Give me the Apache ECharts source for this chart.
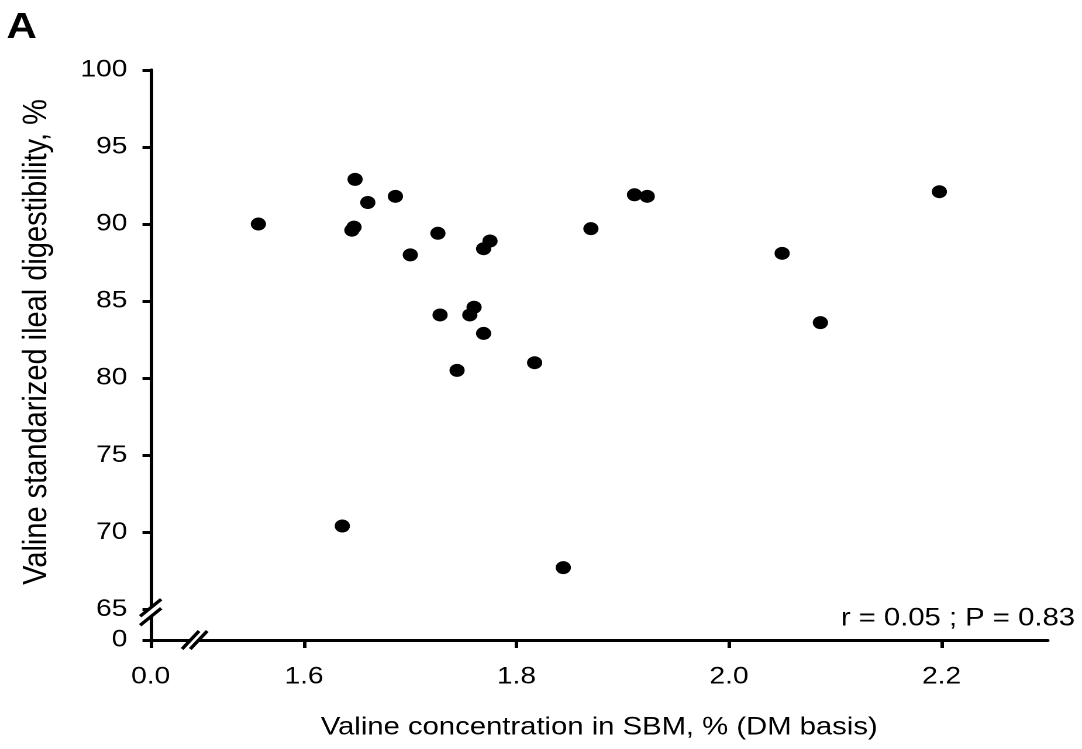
<!DOCTYPE html>
<html>
<head>
<meta charset="utf-8">
<script src="https://cdn.jsdelivr.net/npm/echarts@6/dist/echarts.min.js"></script>
<style>
  html, body { margin: 0; padding: 0; background: #fff; overflow: hidden; }
  /* the figure is drawn narrower and widened to the page, so type and dots are slightly broad */
  #chart { width: 925px; height: 749px; transform: scaleX(1.16973); transform-origin: 0 0; }
</style>
</head>
<body>
<div id="chart"></div>
<script>
// Valine concentration in SBM (% DM) and standardized ileal digestibility (%)
const valineConc = [
  1.557, 1.648, 1.660, 1.686, 1.647, 1.645, 1.726, 1.700,
  1.775, 1.769, 1.728, 1.760, 1.756, 1.769, 1.744, 1.817,
  1.870, 1.911, 1.923, 2.050, 2.086, 2.198, 1.636, 1.844
];
const valineSID = [
  90.0, 92.9, 91.4, 91.8, 89.8, 89.6, 89.4, 88.0,
  88.9, 88.4, 84.1, 84.6, 84.1, 82.9, 80.5, 81.0,
  89.7, 91.9, 91.8, 88.1, 83.6, 92.1, 70.4, 67.7
];

// Broken axes: the first tick of each axis stands for zero
const xAxisStart = 1.4556;
const xAxisEnd = 2.3;
const xTickValues = [xAxisStart, 1.6, 1.8, 2.0, 2.2];
const xTickLabels = ['0.0', '1.6', '1.8', '2.0', '2.2'];
const xBreakAt = 1.497;

const yAxisStart = 63;
const yAxisEnd = 100;
const yTickValues = [yAxisStart, 65, 70, 75, 80, 85, 90, 95, 100];
const yTickLabels = ['0', '65', '70', '75', '80', '85', '90', '95', '100'];
const yBreakAt = 64.8;

const statsText = 'r = 0.05 ; P = 0.83';
const panelLetter = 'A';
const xTitle = 'Valine concentration in SBM, % (DM basis)';
const yTitle = 'Valine standarized ileal digestibility, %';

function labelFor(values, labels) {
  return function (v) {
    let best = 0;
    for (let i = 1; i < values.length; i++) {
      if (Math.abs(values[i] - v) < Math.abs(values[best] - v)) best = i;
    }
    return labels[best];
  };
}

const FONT = 'Liberation Sans, Arial, sans-serif';
const chart = echarts.init(document.getElementById('chart'), null, {
  renderer: 'canvas', devicePixelRatio: 2
});

const axisLine = { show: true, onZero: false, lineStyle: { color: '#000', width: 3 } };
const tickStyle = { color: '#000', width: 3 };

chart.setOption({
  animation: false,
  backgroundColor: '#fff',
  grid: { left: 128.8, right: 29.3, top: 70, bottom: 109, containLabel: false },
  xAxis: {
    type: 'value',
    min: xAxisStart,
    max: xAxisEnd,
    axisLine: axisLine,
    axisTick: { show: true, inside: false, length: 8, customValues: xTickValues, lineStyle: tickStyle },
    axisLabel: {
      customValues: xTickValues,
      formatter: labelFor(xTickValues, xTickLabels),
      color: '#000', fontFamily: FONT, fontSize: 24, margin: 25
    },
    splitLine: { show: false },
    name: xTitle,
    nameLocation: 'middle',
    nameGap: 75,
    nameTextStyle: { color: '#000', fontFamily: FONT, fontSize: 25 }
  },
  yAxis: {
    type: 'value',
    min: yAxisStart,
    max: yAxisEnd,
    axisLine: axisLine,
    axisTick: { show: true, inside: false, length: 7, customValues: yTickValues, lineStyle: tickStyle },
    axisLabel: {
      customValues: yTickValues,
      formatter: labelFor(yTickValues, yTickLabels),
      color: '#000', fontFamily: FONT, fontSize: 24, margin: 20
    },
    splitLine: { show: false },
    name: yTitle,
    nameLocation: 'middle',
    nameRotate: 90,
    nameGap: 83,
    nameTextStyle: { color: '#000', fontFamily: FONT, fontSize: 29, padding: [0, 0, 0, 26] }
  },
  series: [{
    type: 'scatter',
    data: valineConc.map((x, i) => [x, valineSID[i]]),
    symbol: 'circle',
    symbolSize: 13,
    itemStyle: { color: '#000', opacity: 1 },
    z: 3
  }]
});

// Break marks on both axes, placed through the grid's coordinate system
const yb = chart.convertToPixel({ gridIndex: 0 }, [xAxisStart, yBreakAt]);
const xb = chart.convertToPixel({ gridIndex: 0 }, [xBreakAt, yAxisStart]);

function breakMark(cx, cy, dx, dy, sx, sy) {
  // two parallel slashes (direction dx,dy) separated by (sx,sy), with the axis blanked between them
  const hx = dx / 2, hy = dy / 2;
  const a = [cx - sx / 2, cy - sy / 2];
  const b = [cx + sx / 2, cy + sy / 2];
  const k = 0.3;
  return [
    {
      type: 'polygon', z: 100,
      shape: { points: [
        [a[0] - hx * k, a[1] - hy * k], [a[0] + hx * k, a[1] + hy * k],
        [b[0] + hx * k, b[1] + hy * k], [b[0] - hx * k, b[1] - hy * k]
      ] },
      style: { fill: '#fff' }
    },
    {
      type: 'line', z: 101,
      shape: { x1: a[0] - hx, y1: a[1] - hy, x2: a[0] + hx, y2: a[1] + hy },
      style: { stroke: '#000', lineWidth: 3 }
    },
    {
      type: 'line', z: 101,
      shape: { x1: b[0] - hx, y1: b[1] - hy, x2: b[0] + hx, y2: b[1] + hy },
      style: { stroke: '#000', lineWidth: 3 }
    }
  ];
}

chart.setOption({
  graphic: [].concat(
    breakMark(yb[0], yb[1], 18, -17, 0, 9),
    breakMark(xb[0], xb[1], 14.5, -18, 7, 0),
    [
      {
        type: 'text', left: 5.5, top: 10, z: 100,
        style: { text: panelLetter, fill: '#000', font: 'bold 36px ' + FONT }
      },
      {
        type: 'text', right: 6, top: 606, z: 100,
        style: { text: statsText, fill: '#000', font: '25px ' + FONT }
      }
    ]
  )
});
</script>
</body>
</html>
